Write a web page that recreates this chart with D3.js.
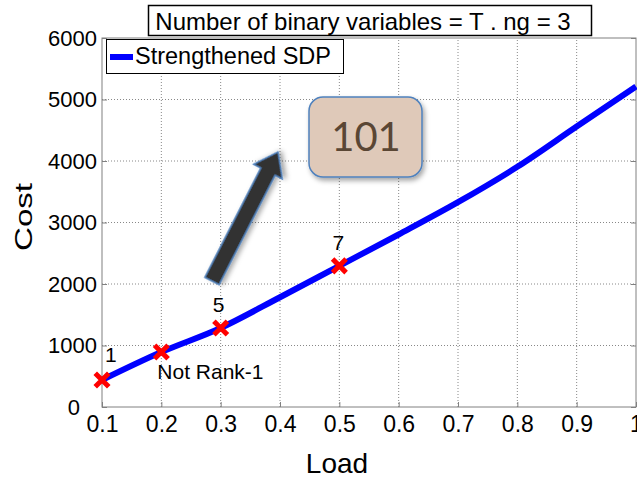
<!DOCTYPE html>
<html>
<head>
<meta charset="utf-8">
<script src="https://cdn.jsdelivr.net/npm/d3@7"></script>
<style>
  body { margin: 0; background: #fff; }
  svg { display: block; font-family: "Liberation Sans", Arial, sans-serif; }
</style>
</head>
<body>
<svg id="chart" width="637" height="478"></svg>
<script>
// values
const loads = [0.1, 0.2, 0.3, 0.4, 0.5, 0.6, 0.7, 0.8, 0.9, 1.0];
const costs = [440, 894, 1285, 1785, 2295, 2805, 3330, 3905, 4560, 5210];
const xTicks = [0.1, 0.2, 0.3, 0.4, 0.5, 0.6, 0.7, 0.8, 0.9, 1];
const yTicks = [0, 1000, 2000, 3000, 4000, 5000, 6000];
// marked points and their labels
const markLoads = [0.1, 0.2, 0.3, 0.5];
const markCosts = [440, 894, 1285, 2295];
const markLabels = ["1", "Not Rank-1", "5", "7"];

const svg = d3.select("#chart");
const x = d3.scaleLinear().domain([0.1, 1]).range([102, 636]);
const y = d3.scaleLinear().domain([0, 6000]).range([407, 38]);

// grid
const grid = svg.append("g");
grid.selectAll(".gx").data(xTicks.slice(1, -1)).enter().append("line")
  .attr("x1", d => x(d)).attr("x2", d => x(d))
  .attr("y1", y(0)).attr("y2", y(6000))
  .attr("stroke", "#888").attr("stroke-width", 1).attr("stroke-dasharray", "1,2");
grid.selectAll(".gy").data(yTicks.slice(1, -1)).enter().append("line")
  .attr("x1", x(0.1)).attr("x2", x(1))
  .attr("y1", d => y(d)).attr("y2", d => y(d))
  .attr("stroke", "#888").attr("stroke-width", 1).attr("stroke-dasharray", "1,2");

// box
svg.append("rect")
  .attr("x", x(0.1)).attr("y", y(6000))
  .attr("width", x(1) - x(0.1)).attr("height", y(0) - y(6000))
  .attr("fill", "none").attr("stroke", "#808080").attr("stroke-width", 1);

// axes
const xAxis = svg.append("g").attr("transform", `translate(0,${y(0)})`)
  .call(d3.axisBottom(x).tickValues(xTicks).tickSize(-5).tickPadding(9)
    .tickFormat(d => d === 1 ? "1" : d3.format(".1f")(d)));
const yAxis = svg.append("g").attr("transform", `translate(${x(0.1)},0)`)
  .call(d3.axisLeft(y).tickValues(yTicks).tickSize(-5).tickPadding(5).tickFormat(d3.format("d")));
const yAxisR = svg.append("g").attr("transform", `translate(${x(1)},0)`)
  .call(d3.axisRight(y).tickValues(yTicks).tickSize(-5).tickFormat(""));
[xAxis, yAxis, yAxisR].forEach(a => {
  a.select(".domain").remove();
  a.selectAll(".tick line").attr("stroke", "#808080");
  a.attr("font-family", null);
  a.selectAll("text").style("font-size", "22px").attr("fill", "#000");
});
xAxis.selectAll("text").style("font-size", "23px");
// the zero label sits further left, clear of "0.1"
yAxis.selectAll(".tick text").filter(d => d === 0).attr("dx", -17);

// curve
const line = d3.line().x(d => x(d[0])).y(d => y(d[1])).curve(d3.curveMonotoneX);
svg.append("path")
  .datum(d3.zip(loads, costs))
  .attr("d", line)
  .attr("fill", "none").attr("stroke", "#0000ff").attr("stroke-width", 6)
  .attr("stroke-linejoin", "round");

// red crosses
const marks = svg.append("g").selectAll("g").data(d3.zip(markLoads, markCosts)).enter().append("g")
  .attr("transform", d => `translate(${x(d[0])},${y(d[1])})`);
marks.append("path")
  .attr("d", "M-5,-5L5,5M-5,5L5,-5")
  .attr("stroke", "#ff0000").attr("stroke-width", 5).attr("stroke-linecap", "square");

// point labels
const labelPos = [[3, -18, "start"], [-4, 27, "start"], [-2, -16, "middle"], [-1, -16, "middle"]];
svg.append("g").selectAll("text").data(markLabels).enter().append("text")
  .attr("x", (d, i) => x(markLoads[i]) + labelPos[i][0])
  .attr("y", (d, i) => y(markCosts[i]) + labelPos[i][1])
  .attr("text-anchor", (d, i) => labelPos[i][2])
  .style("font-size", "21px")
  .text(d => d);

// axis labels
svg.append("text").attr("x", 337).attr("y", 473).attr("text-anchor", "middle")
  .style("font-size", "28px").text("Load");
svg.append("text").attr("transform", "translate(32,217) rotate(-90)")
  .attr("text-anchor", "middle").style("font-size", "24px")
  .attr("textLength", 68).attr("lengthAdjust", "spacingAndGlyphs").text("Cost");

// title box
svg.append("rect").attr("x", 148.5).attr("y", 5.5).attr("width", 443).attr("height", 30)
  .attr("fill", "#fff").attr("stroke", "#000").attr("stroke-width", 1.5);
svg.append("text").attr("x", 363).attr("y", 30).attr("text-anchor", "middle")
  .style("font-size", "24px").text("Number of binary variables = T . ng = 3");

// legend
svg.append("rect").attr("x", 106.5).attr("y", 39.5).attr("width", 237).attr("height", 34)
  .attr("fill", "#fff").attr("stroke", "#000").attr("stroke-width", 1);
svg.append("line").attr("x1", 110).attr("x2", 133).attr("y1", 57).attr("y2", 57)
  .attr("stroke", "#0000ff").attr("stroke-width", 6);
svg.append("text").attr("x", 135).attr("y", 64).style("font-size", "23.5px").text("Strengthened SDP");

// annotation arrow
const defs = svg.append("defs");
const sh = defs.append("filter").attr("id", "shadow").attr("x", "-20%").attr("y", "-20%")
  .attr("width", "150%").attr("height", "150%");
sh.append("feDropShadow").attr("dx", 2).attr("dy", 3).attr("stdDeviation", 2.5)
  .attr("flood-color", "#000").attr("flood-opacity", 0.35);

const tail = [212, 281], tip = [278, 152];
const ang = Math.atan2(tip[1] - tail[1], tip[0] - tail[0]) * 180 / Math.PI;
const len = Math.hypot(tip[0] - tail[0], tip[1] - tail[1]);
svg.append("path")
  .attr("transform", `translate(${tail[0]},${tail[1]}) rotate(${ang})`)
  .attr("d", `M0,-8L${len - 22},-8L${len - 22},-16L${len},0L${len - 22},16L${len - 22},8L0,8Z`)
  .attr("fill", "#333333").attr("stroke", "#4f81bd").attr("stroke-width", 1.5)
  .attr("filter", "url(#shadow)");

// "101" box
svg.append("rect").attr("x", 309).attr("y", 97).attr("width", 113).attr("height", 80)
  .attr("rx", 14).attr("fill", "#dfc9b9").attr("stroke", "#4f81bd").attr("stroke-width", 1.5)
  .attr("filter", "url(#shadow)");
svg.append("text").attr("x", 366).attr("y", 151).attr("text-anchor", "middle")
  .attr("font-family", "Lato, 'Open Sans', sans-serif").style("font-size", "40px")
  .attr("fill", "#5a4634").text("101");
</script>
</body>
</html>
